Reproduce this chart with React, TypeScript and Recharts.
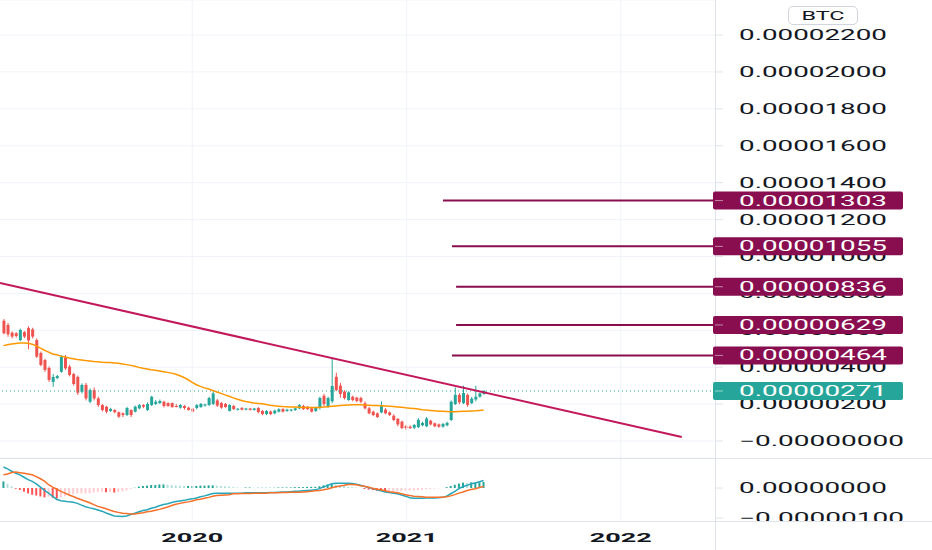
import React from 'react';
import { ComposedChart, Bar, Line, Cell, XAxis, YAxis, CartesianGrid, ReferenceLine, ReferenceDot } from 'recharts';

// weekly candles, prices in units of 1e-8 BTC (satoshi)
const START = Date.UTC(2019, 1, 13);
const WEEK = 7 * 24 * 3600 * 1000;

const opens = [652, 629, 587, 584, 547, 590, 612, 605, 547, 477, 439, 396, 320, 341, 375, 453, 403, 363, 347, 267, 304, 213, 276, 231, 195, 186, 163, 168, 156, 150,
  141, 168, 159, 177, 195, 168, 195, 201, 206, 213, 206, 206, 190, 181, 190, 181, 175, 179, 184, 192, 195, 201, 220, 206, 201, 163, 190, 170, 179, 170,
  176, 168, 179, 163, 146, 160, 150, 159, 173, 163, 165, 168, 177, 190, 186, 177, 163, 179, 245, 186, 215, 348, 300, 268, 222, 240, 235, 233, 204, 177,
  159, 150, 155, 170, 155, 137, 120, 105, 81, 78, 72, 75, 85, 80, 110, 96, 90, 78, 85, 114, 200, 250, 205, 250, 205, 225, 240, 255];
const highs = [661, 640, 594, 590, 609, 596, 622, 614, 556, 485, 446, 404, 363, 358, 466, 466, 412, 370, 355, 312, 315, 285, 290, 240, 201, 190, 180, 172, 160, 155,
  185, 172, 192, 200, 200, 210, 245, 222, 225, 218, 210, 208, 200, 200, 195, 186, 180, 200, 206, 202, 240, 270, 228, 212, 206, 200, 195, 178, 184, 180,
  180, 180, 184, 168, 168, 165, 170, 178, 178, 175, 174, 182, 200, 196, 190, 181, 186, 240, 255, 240, 455, 370, 315, 275, 270, 246, 240, 240, 215, 185,
  165, 155, 215, 178, 160, 145, 125, 110, 88, 85, 92, 125, 105, 130, 115, 100, 95, 98, 105, 220, 290, 260, 300, 258, 240, 300, 262, 276];
const lows = [578, 565, 556, 560, 541, 558, 497, 556, 450, 405, 375, 320, 294, 336, 370, 385, 350, 300, 250, 258, 220, 205, 220, 185, 160, 150, 157, 150, 125, 130,
  135, 130, 155, 172, 178, 163, 190, 195, 200, 182, 185, 180, 182, 175, 170, 165, 155, 172, 180, 186, 190, 195, 184, 175, 180, 160, 168, 165, 166, 166,
  165, 165, 150, 140, 140, 140, 145, 155, 155, 158, 160, 163, 172, 168, 168, 155, 158, 170, 190, 180, 205, 270, 235, 225, 218, 215, 210, 205, 172, 145,
  135, 125, 150, 145, 135, 108, 80, 65, 60, 65, 65, 70, 80, 75, 85, 75, 72, 72, 80, 108, 195, 200, 200, 185, 200, 215, 235, 250];
const closes = [584, 578, 566, 569, 602, 566, 545, 566, 457, 412, 385, 331, 347, 352, 457, 394, 358, 309, 262, 304, 231, 276, 231, 195, 168, 159, 174, 156, 132, 141,
  179, 141, 186, 195, 186, 201, 240, 213, 217, 190, 190, 184, 186, 195, 179, 168, 160, 195, 201, 198, 233, 258, 192, 181, 184, 195, 173, 175, 170, 176,
  169, 176, 157, 146, 163, 146, 165, 172, 159, 170, 170, 177, 195, 173, 173, 159, 181, 233, 200, 233, 298, 276, 255, 233, 264, 222, 217, 213, 177, 150,
  141, 130, 195, 150, 141, 114, 90, 70, 70, 70, 87, 115, 98, 122, 90, 80, 78, 92, 98, 213, 250, 210, 260, 195, 230, 240, 258, 271];

// moving average (orange)
const maLine = [517, 522, 526, 529, 531, 531, 530, 525, 515, 503, 492, 482, 472, 467, 460, 455, 450, 446, 442, 439, 436, 434, 431, 429, 427, 426, 425, 423, 421, 418,
  414, 410, 405, 399, 394, 390, 386, 383, 380, 376, 372, 368, 362, 354, 344, 332, 318, 305, 296, 288, 282, 274, 266, 258, 250, 243, 234, 226, 220, 214,
  210, 206, 204, 202, 198, 194, 191, 189, 187, 186, 185, 184, 183, 182, 181, 181, 181, 182, 184, 186, 188, 190, 192, 194, 195, 196, 196, 196, 195, 194,
  193, 192, 191, 190, 189, 187, 185, 183, 180, 178, 176, 173, 170, 168, 166, 164, 162, 161, 160, 159, 159, 160, 161, 162, 163, 164, 166, 168];

// MACD pane
const macdLine = [70, 64, 56, 49, 44, 36, 28, 22, 14, 3, -8, -17, -28, -38, -42, -44, -46, -47, -51, -57, -62, -66, -69, -73, -77, -83, -88, -93, -94, -95,
  -93, -88, -84, -79, -75, -72, -67, -64, -59, -55, -52, -48, -45, -43, -41, -38, -36, -33, -29, -26, -22, -18, -17, -17, -17, -17, -17, -17, -17, -16,
  -16, -16, -16, -16, -16, -15, -15, -14, -13, -13, -12, -11, -11, -9, -8, -7, -6, -2, 4, 9, 14, 16, 16, 16, 16, 15, 13, 9, 5, 2,
  -2, -6, -9, -13, -15, -17, -19, -23, -27, -32, -34, -34, -34, -33, -33, -33, -32, -31, -27, -19, -11, -2, 5, 9, 14, 17, 21, 25];
const signalLine = [44, 47, 52, 53, 51, 49, 47, 44, 38, 31, 23, 11, 3, -4, -11, -17, -23, -28, -34, -39, -44, -49, -55, -61, -65, -69, -74, -78, -81, -84,
  -85, -86, -86, -84, -82, -79, -77, -74, -71, -67, -63, -58, -54, -51, -48, -46, -43, -39, -37, -34, -31, -27, -25, -24, -23, -22, -19, -19, -18, -18,
  -18, -17, -17, -17, -17, -16, -16, -16, -15, -15, -14, -14, -14, -13, -12, -11, -9, -8, -6, -3, 1, 4, 7, 9, 12, 12, 11, 8, 6, 3,
  -1, -4, -6, -9, -12, -14, -16, -19, -22, -25, -27, -28, -29, -31, -31, -31, -31, -31, -29, -26, -22, -17, -13, -8, -5, -2, 2, 5];
const histogram = [22, 14, 6, -2, -6, -12, -18, -22, -25, -28, -31, -29, -32, -35, -31, -27, -24, -20, -18, -18, -18, -17, -15, -13, -12, -14, -14, -15, -13, -11,
  -8, -3, 1, 5, 7, 8, 10, 10, 12, 12, 11, 10, 9, 8, 7, 7, 7, 7, 8, 8, 9, 9, 8, 7, 6, 5, 3, 2, 1, 2,
  2, 1, 1, 1, 1, 1, 1, 2, 2, 2, 2, 3, 3, 3, 4, 4, 4, 6, 9, 12, 13, 12, 9, 7, 4, 3, 2, 1, -3, -5,
  -7, -9, -10, -12, -12, -12, -11, -10, -9, -8, -8, -7, -6, -4, -3, -2, -1, 0, 3, 7, 11, 15, 18, 17, 19, 19, 19, 20];

// drawings
const levelPrices = [1303, 1055, 836, 629, 464];
const levelFromWeeks = [107.1, 109.3, 110.3, 110.3, 109.3];
const trendWeeks = [-0.85, 165.3];
const trendPrices = [856, 22];

const priceTicks = [0, 200, 400, 600, 800, 1000, 1200, 1400, 1600, 1800, 2000, 2200];
const macdTicks = [0, -100];
const yearTicks = [Date.UTC(2020, 0, 1), Date.UTC(2021, 0, 1), Date.UTC(2022, 0, 1)];
const yearLabels = ['2020', '2021', '2022'];

const X_DOMAIN = [START - 0.85 * WEEK, START + 173.4 * WEEK];
const PRICE_DOMAIN = [-92, 2390];
const UP = '#26a69a';
const DOWN = '#ef5350';
const GRID = '#f0f3fa';
const FONT = 'Roboto, sans-serif';

const rows = opens.map((o, i) => ({
    t: START + i * WEEK,
    o,
    h: highs[i],
    l: lows[i],
    c: closes[i],
    range: [lows[i], highs[i]],
    ma: maLine[i],
    macd: macdLine[i],
    signal: signalLine[i],
    hist: histogram[i],
}));

const fmt = (v: number, minusZero: boolean) => {
    const s = (Math.abs(v) / 1e8).toFixed(8);
    return v < 0 || (v === 0 && minusZero) ? '\u2212' + s : s;
};

const Candle = (props: any) => {
    const { x, y, width, height, payload } = props;
    const top = Math.min(y, y + height);
    const hh = Math.abs(height);
    const { o, h, l, c } = payload;
    const color = c >= o ? UP : DOWN;
    const k = h === l ? 0 : hh / (h - l);
    const bTop = top + (h - Math.max(o, c)) * k;
    const bBot = top + (h - Math.min(o, c)) * k;
    const cx = x + width / 2;
    return (
        <g>
            <line x1={cx} x2={cx} y1={top} y2={top + hh} stroke={color} strokeWidth={1} />
            <rect x={x} y={bTop} width={width} height={Math.max(1, bBot - bTop)} fill={color} />
        </g>
    );
};

const PriceTick = (minusZero: boolean) => (props: any) => {
    const { x, y, payload } = props;
    const label = fmt(payload.value, minusZero);
    return (
        <text x={x} y={y} dy={5} fill="#131722" fontSize={14} fontFamily={FONT}
            textLength={label.length === 11 ? 165 : 148} lengthAdjust="spacingAndGlyphs">
            {label}
        </text>
    );
};

const YearTick = (props: any) => {
    const { x, y, payload } = props;
    const idx = yearTicks.indexOf(payload.value);
    return (
        <text x={x} y={y + 12} textAnchor="middle" fill="#131722" fontSize={13} fontWeight="bold" fontFamily={FONT}
            textLength={62} lengthAdjust="spacingAndGlyphs">
            {yearLabels[idx]}
        </text>
    );
};

const PriceTag = (fill: string, value: number) => (props: any) => {
    const { cx, cy } = props;
    const label = fmt(value, false);
    return (
        <g>
            <rect x={cx - 2} y={cy - 9} width={190} height={18} rx={2} fill={fill} />
            <line x1={cx} x2={cx + 8} y1={cy} y2={cy} stroke="rgba(255,255,255,0.5)" />
            <text x={cx + 24} y={cy} dy={5} fill="#ffffff" fontSize={14} fontFamily={FONT}
                textLength={148} lengthAdjust="spacingAndGlyphs">
                {label}
            </text>
        </g>
    );
};

const histColor = (i: number) => {
    const v = histogram[i];
    const prev = i > 0 ? histogram[i - 1] : v;
    if (v >= 0) return v >= prev ? '#26a69a' : '#b2dfdb';
    return v < prev ? '#ff5252' : '#ffcdd2';
};

const lastClose = closes[closes.length - 1];
const zero = { top: 0, right: 0, bottom: 0, left: 0 };

const App: React.FC = () => {
    return (
        <div style={{ position: 'absolute', left: 0, top: 0, width: 932, height: 550, background: '#fff', overflow: 'hidden' }}>
            <div style={{ position: 'absolute', left: 0, top: 0 }}>
                <ComposedChart width={932} height={458} data={rows} margin={zero}>
                    <CartesianGrid stroke={GRID} vertical={false} />
                    <XAxis dataKey="t" type="number" domain={X_DOMAIN} ticks={yearTicks} hide allowDataOverflow />
                    <YAxis orientation="right" width={217} domain={PRICE_DOMAIN} ticks={priceTicks} interval={0}
                        allowDataOverflow axisLine={false} tickLine={{ stroke: '#e0e3eb' }} tickSize={8} tickMargin={16}
                        tick={PriceTick(true)} />
                    {yearTicks.map((t) => (
                        <ReferenceLine key={t} x={t} stroke={GRID} />
                    ))}
                    <ReferenceLine y={lastClose} stroke={UP} strokeDasharray="1 3" />
                    <Bar dataKey="range" shape={Candle} barSize={3} activeBar={false} isAnimationActive={false} />
                    <Line dataKey="ma" stroke="#ff9800" strokeWidth={1.5} dot={false} activeDot={false} isAnimationActive={false} />
                    <ReferenceLine
                        segment={[
                            { x: START + trendWeeks[0] * WEEK, y: trendPrices[0] },
                            { x: START + trendWeeks[1] * WEEK, y: trendPrices[1] },
                        ]}
                        stroke="#c2185b" strokeWidth={2} ifOverflow="visible" />
                    {levelPrices.map((p, i) => (
                        <ReferenceLine key={p}
                            segment={[{ x: START + levelFromWeeks[i] * WEEK, y: p }, { x: X_DOMAIN[1], y: p }]}
                            stroke="#880e4f" strokeWidth={2} />
                    ))}
                </ComposedChart>
            </div>
            <div style={{ position: 'absolute', left: 0, top: 458 }}>
                <ComposedChart width={932} height={92} data={rows} margin={zero}>
                    <XAxis dataKey="t" type="number" domain={X_DOMAIN} ticks={yearTicks} height={28} interval={0}
                        axisLine={false} tickLine={false} tick={YearTick} allowDataOverflow />
                    <YAxis orientation="right" width={217} domain={[-113, 100]} ticks={macdTicks} interval={0}
                        allowDataOverflow axisLine={false} tickLine={{ stroke: '#e0e3eb' }} tickSize={8} tickMargin={16}
                        tick={PriceTick(false)} />
                    {yearTicks.map((t) => (
                        <ReferenceLine key={t} x={t} stroke={GRID} />
                    ))}
                    <Bar dataKey="hist" barSize={2} activeBar={false} isAnimationActive={false}>
                        {rows.map((r, i) => (
                            <Cell key={r.t} fill={histColor(i)} />
                        ))}
                    </Bar>
                    <Line dataKey="macd" stroke="#26a6b8" strokeWidth={1.5} dot={false} activeDot={false} isAnimationActive={false} />
                    <Line dataKey="signal" stroke="#f5702a" strokeWidth={1.5} dot={false} activeDot={false} isAnimationActive={false} />
                </ComposedChart>
            </div>
            <div style={{ position: 'absolute', left: 716, top: 522, width: 216, height: 6, background: '#fff' }} />
            <div style={{ position: 'absolute', left: 715, top: 0, width: 1, height: 550, background: '#e0e3eb' }} />
            <div style={{ position: 'absolute', left: 0, top: 458, width: 932, height: 1, background: '#e0e3eb' }} />
            <div style={{ position: 'absolute', left: 0, top: 521, width: 932, height: 1, background: '#e0e3eb' }} />
            {/* price tags on top of the axis labels */}
            <div style={{ position: 'absolute', left: 0, top: 0, pointerEvents: 'none' }}>
                <ComposedChart width={932} height={458} data={rows} margin={{ top: 0, right: 217, bottom: 0, left: 0 }}>
                    <XAxis dataKey="t" type="number" domain={X_DOMAIN} hide allowDataOverflow />
                    <YAxis domain={PRICE_DOMAIN} hide allowDataOverflow />
                    {levelPrices.map((p) => (
                        <ReferenceDot key={'tag' + p} x={X_DOMAIN[1]} y={p} ifOverflow="visible" shape={PriceTag('#880e4f', p)} />
                    ))}
                    <ReferenceDot x={X_DOMAIN[1]} y={lastClose} ifOverflow="visible" shape={PriceTag(UP, lastClose)} />
                </ComposedChart>
            </div>
            <div style={{
                position: 'absolute', left: 788, top: 6, width: 68, height: 17, border: '1px solid #d1d4dc', borderRadius: 5,
                display: 'flex', alignItems: 'center', justifyContent: 'center', fontFamily: FONT, fontSize: 13, color: '#131722',
            }}>
                <span style={{ display: 'inline-block', transform: 'scaleX(1.8)' }}>BTC</span>
            </div>
        </div>
    );
};

export default App;
